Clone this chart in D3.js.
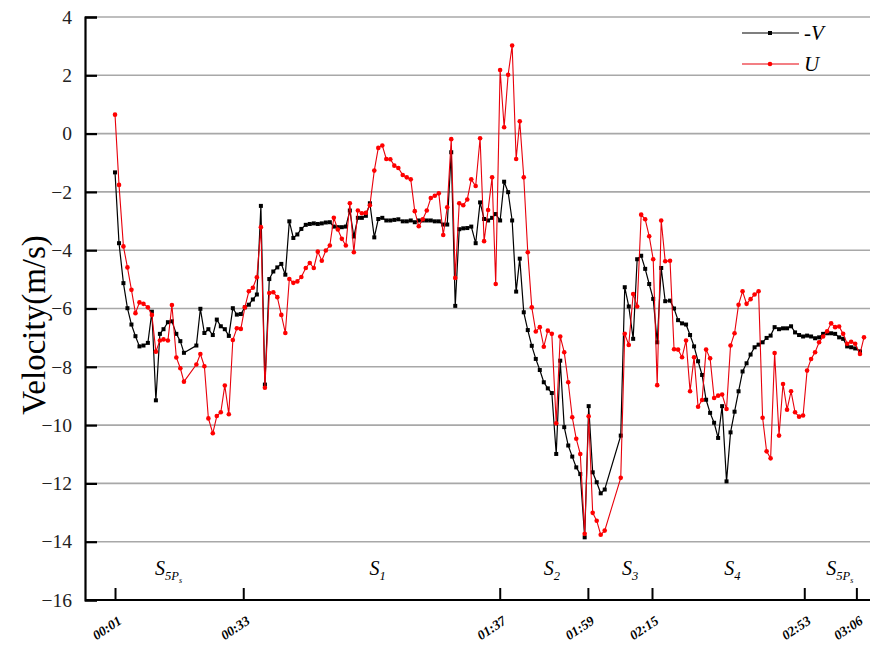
<!DOCTYPE html>
<html>
<head>
<meta charset="utf-8">
<script src="https://cdn.jsdelivr.net/npm/d3@7/dist/d3.min.js"></script>
<style>
  html, body { margin: 0; padding: 0; background: #fff; }
  svg { display: block; }
</style>
</head>
<body>
<svg id="chart" width="873" height="646"></svg>
<script>
// ---- data (time in seconds, velocity in m/s) ----
const times = [
  1.0, 2.0, 3.1, 4.1, 5.1, 6.1, 7.1, 8.1, 9.2, 10.2, 11.2, 12.2, 13.1, 14.2, 15.2, 16.3, 17.3, 18.2,
  21.3, 22.3, 23.3, 24.3, 25.4, 26.4, 27.4, 28.4, 29.4, 30.4, 31.4, 32.4, 33.4, 34.4, 35.4, 36.4, 37.4, 38.4,
  39.5, 40.5, 41.5, 42.5, 43.5, 44.5, 45.5, 46.5, 47.5,
  48.6, 49.6, 50.6, 51.6, 52.6, 53.6, 54.6, 55.6, 56.6, 57.6, 58.6, 59.6, 60.6, 61.6, 62.6, 63.6, 64.6,
  65.7, 66.7, 67.7, 68.7, 69.7, 70.7, 71.7, 72.8, 73.8, 74.8, 75.8, 76.8, 77.8, 78.8, 79.8, 80.8, 81.8,
  82.9, 83.9, 84.9, 85.9, 86.9, 87.9, 88.9, 89.9, 91.0, 92.1, 93.1, 94.1, 95.1, 96.0,
  97.1, 98.1, 99.1, 100.1, 101.1, 102.0, 103.0, 104.0, 105.0, 106.0, 107.0, 108.0, 109.0, 110.0,
  111.1, 112.1, 113.1, 114.1, 115.1, 116.1, 117.1, 118.2, 119.2, 120.2, 121.2, 122.2, 123.2,
  127.2, 128.2, 129.2, 130.3, 131.3, 132.3, 133.3, 134.3, 135.3, 136.3, 137.3, 138.3, 139.5, 140.5,
  141.5, 142.5, 143.5, 144.5, 145.5, 146.5, 147.5, 148.5, 149.5, 150.5, 151.5, 152.5, 153.6, 154.6,
  155.6, 156.6, 157.6, 158.6, 159.6, 160.6, 161.6, 162.6, 163.6, 164.6, 165.6, 166.7, 167.7, 168.7,
  169.7, 170.7, 171.7, 172.7, 173.7, 174.7, 175.7, 176.7, 177.7, 178.7, 179.7, 180.7, 181.7, 182.7,
  183.7, 184.7, 185.7, 186.9, 187.9
];

const negV = [
  -1.33, -3.76, -5.13, -5.99, -6.55, -6.95, -7.30, -7.27, -7.18, -6.11, -9.15, -6.87, -6.71, -6.47, -6.44, -6.87, -7.12, -7.52,
  -7.27, -6.01, -6.84, -6.71, -6.91, -6.38, -6.61, -6.71, -6.94, -5.99, -6.21, -6.19, -5.96, -5.87, -5.69, -5.52, -2.48, -8.61,
  -4.99, -4.73, -4.59, -4.47, -4.84, -3.01, -3.58, -3.46, -3.27,
  -3.13, -3.10, -3.08, -3.10, -3.08, -3.05, -3.04, -3.19, -3.21, -3.21, -3.19, -2.64, -3.53, -2.89, -2.89, -2.82, -2.39,
  -3.56, -2.93, -2.89, -2.98, -2.98, -2.96, -2.94, -3.01, -3.01, -2.98, -3.04, -2.98, -2.98, -2.98, -2.98, -3.01, -3.01,
  -3.12, -3.12, -0.64, -5.91, -3.28, -3.25, -3.24, -3.19, -3.76, -2.36, -2.93, -2.98, -2.89, -2.76,
  -2.98, -1.65, -2.01, -2.98, -5.42, -4.29, -6.13, -6.74, -7.28, -7.73, -8.11, -8.53, -8.74, -8.90,
  -10.99, -7.79, -10.07, -10.70, -11.08, -11.45, -11.68, -13.85, -9.35, -11.62, -11.96, -12.34, -12.21,
  -10.36, -5.27, -5.93, -7.04, -4.31, -4.19, -4.64, -5.16, -5.67, -7.16, -4.61, -5.75, -5.73, -6.00,
  -6.40, -6.51, -6.55, -6.91, -7.30, -7.81, -8.28, -9.13, -9.58, -9.92, -10.44, -9.35, -11.93, -10.25,
  -9.54, -8.84, -8.16, -7.88, -7.58, -7.33, -7.24, -7.16, -7.01, -6.93, -6.64, -6.71, -6.68, -6.68,
  -6.61, -6.82, -6.91, -6.96, -6.93, -6.96, -7.02, -6.99, -6.87, -6.85, -6.85, -6.87, -6.99, -7.04,
  -7.30, -7.33, -7.37, -7.47, null
];

const U = [
  0.65, -1.76, -3.87, -4.59, -5.36, -6.16, -5.79, -5.84, -5.96, -6.22, -7.48, -7.10, -7.06, -7.10, -5.88, -7.68, -8.05, -8.51,
  -7.92, -7.56, -7.98, -9.77, -10.28, -9.69, -9.56, -8.64, -9.63, -7.08, -6.68, -6.70, -5.96, -5.41, -5.29, -4.93, -3.21, -8.72,
  -5.47, -5.44, -5.61, -6.22, -6.84, -4.99, -5.12, -5.07, -4.92,
  -4.61, -4.44, -4.61, -4.05, -4.36, -4.01, -3.84, -2.89, -3.29, -3.61, -3.84, -2.39, -4.07, -2.64, -2.73, -2.72, -2.46,
  -1.27, -0.49, -0.41, -0.87, -0.88, -1.10, -1.18, -1.42, -1.50, -1.57, -2.66, -3.18, -2.94, -2.64, -2.21, -2.13, -2.05,
  -3.48, -2.53, -0.19, -4.95, -2.39, -2.46, -2.26, -1.57, -1.80, -0.16, -3.69, -2.62, -1.50, -5.16,
  2.18, 0.22, 2.02, 3.02, -0.87, 0.42, -1.50, -4.07, -5.96, -6.79, -6.64, -7.31, -6.76, -6.87,
  -9.94, -6.96, -7.50, -8.53, -9.73, -10.47, -10.99, -13.73, -9.70, -13.01, -13.28, -13.76, -13.62,
  -11.81, -6.87, -7.25, -5.50, -5.93, -2.78, -2.94, -3.52, -4.31, -8.63, -2.98, -4.38, -4.36, -7.40,
  -7.41, -7.67, -7.10, -8.84, -7.67, -9.37, -9.14, -7.41, -7.71, -9.07, -8.99, -8.95, -9.45, -7.27,
  -6.85, -5.87, -5.41, -5.84, -5.68, -5.52, -5.41, -9.75, -10.90, -11.14, -7.53, -10.36, -8.59, -9.47,
  -8.84, -9.56, -9.71, -9.67, -8.13, -7.73, -7.50, -7.16, -6.96, -6.78, -6.51, -6.64, -6.62, -6.87,
  -7.21, -7.14, -7.21, -7.56, -6.99
];

// x tick values (seconds) and their labels
const xTickValues = [1, 33, 97, 119, 135, 173, 186];
const xTickLabels = ["00:01", "00:33", "01:37", "01:59", "02:15", "02:53", "03:06"];
const yTickValues = [4, 2, 0, -2, -4, -6, -8, -10, -12, -14, -16];

// stage annotations: [main, subscript, sub-subscript], placed at a time
const stageNames = [["S", "5P", "s"], ["S", "1", ""], ["S", "2", ""], ["S", "3", ""], ["S", "4", ""], ["S", "5P", "s"]];
const stageAt = [11, 64.5, 108, 127.5, 153, 178.5];

const seriesNames = ["-V", "U"];

// ---- layout ----
const svg = d3.select("#chart");
const L = 85, R = 870, T = 17, B = 600;

const x = d3.scaleLinear().domain([-6.49, 189.4]).range([L, R]);
const y = d3.scaleLinear().domain([-16, 4]).range([B, T]);

const serif = "'Liberation Serif', 'DejaVu Serif', serif";

// gridlines
svg.append("g")
  .selectAll("line")
  .data(yTickValues.filter(v => v !== -16))
  .join("line")
  .attr("x1", L).attr("x2", R)
  .attr("y1", d => y(d)).attr("y2", d => y(d))
  .attr("stroke", "#a8a8a8")
  .attr("stroke-width", 1.6);

// y axis
const yAxis = d3.axisLeft(y).tickValues(yTickValues).tickSize(-12).tickPadding(14)
  .tickFormat(d3.format("d"));
const gy = svg.append("g").attr("transform", `translate(${L},0)`).call(yAxis);
gy.select(".domain").attr("stroke", "#000").attr("stroke-width", 2.2);
gy.selectAll(".tick line").attr("stroke", "#000").attr("stroke-width", 2.2);
gy.selectAll(".tick text")
  .attr("font-family", serif).attr("font-size", 19.5).attr("fill", "#222")
  .attr("x", -13);

// x axis
const xAxis = d3.axisBottom(x).tickValues(xTickValues).tickSize(-12)
  .tickFormat((d, i) => xTickLabels[i]);
const gx = svg.append("g").attr("transform", `translate(0,${B})`).call(xAxis);
gx.select(".domain").attr("stroke", "#000").attr("stroke-width", 2.2)
  .attr("d", `M${L},0H${R}`);
gx.selectAll(".tick line").attr("stroke", "#000").attr("stroke-width", 2);
gx.selectAll(".tick text")
  .attr("font-family", serif).attr("font-size", 13.5)
  .attr("font-weight", "bold").attr("font-style", "italic").attr("fill", "#000")
  .attr("text-anchor", "end")
  .attr("y", 0).attr("dy", 0)
  .attr("transform", "translate(7,23) rotate(-34)");

// y title
svg.append("text")
  .attr("transform", `translate(45,325) rotate(-90)`)
  .attr("text-anchor", "middle")
  .attr("font-family", serif).attr("font-size", 33).attr("fill", "#000")
  .text("Velocity(m/s)");

// stage labels
stageNames.forEach((parts, i) => {
  const t = svg.append("text")
    .attr("x", x(stageAt[i])).attr("y", 575)
    .attr("font-family", serif).attr("font-style", "italic").attr("fill", "#000");
  t.append("tspan").attr("font-size", 20).text(parts[0]);
  t.append("tspan").attr("font-size", 12.5).attr("dy", 5).text(parts[1]);
  if (parts[2]) t.append("tspan").attr("font-size", 8).attr("dy", 3).text(parts[2]);
});

// series
const dataV = times.map((t, i) => ({ t, v: negV[i] }));
const dataU = times.map((t, i) => ({ t, v: U[i] }));
const line = d3.line().defined(d => d.v !== null).x(d => x(d.t)).y(d => y(d.v));

svg.append("path").datum(dataV).attr("d", line)
  .attr("fill", "none").attr("stroke", "#000").attr("stroke-width", 1.2);
svg.append("g").selectAll("rect").data(dataV.filter(d => d.v !== null)).join("rect")
  .attr("x", d => x(d.t) - 2).attr("y", d => y(d.v) - 2)
  .attr("width", 4).attr("height", 4).attr("fill", "#000");

svg.append("path").datum(dataU).attr("d", line)
  .attr("fill", "none").attr("stroke", "#e8000b").attr("stroke-width", 1.1);
svg.append("g").selectAll("circle").data(dataU.filter(d => d.v !== null)).join("circle")
  .attr("cx", d => x(d.t)).attr("cy", d => y(d.v)).attr("r", 2.3).attr("fill", "#ff0000");

// legend
const leg = svg.append("g");
const legY = [33, 64];
const legColor = ["#000", "#e8000b"];
seriesNames.forEach((name, i) => {
  leg.append("line").attr("x1", 742).attr("x2", 799).attr("y1", legY[i]).attr("y2", legY[i])
    .attr("stroke", legColor[i]).attr("stroke-width", 1.2);
  if (i === 0) {
    leg.append("rect").attr("x", 768).attr("y", legY[i] - 2).attr("width", 4).attr("height", 4).attr("fill", "#000");
  } else {
    leg.append("circle").attr("cx", 770).attr("cy", legY[i]).attr("r", 2.3).attr("fill", "#ff0000");
  }
  leg.append("text").attr("x", 804).attr("y", legY[i] + 7)
    .attr("font-family", serif).attr("font-style", "italic").attr("font-size", 21).attr("fill", "#000")
    .text(name);
});
</script>
</body>
</html>
